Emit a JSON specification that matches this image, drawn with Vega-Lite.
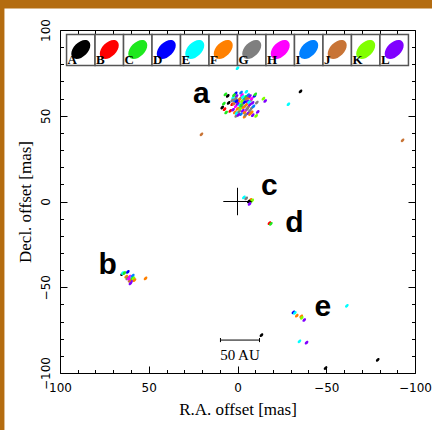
{
  "$schema": "https://vega.github.io/schema/vega-lite/v6.json",
  "width": 355,
  "height": 343,
  "autosize": "none",
  "padding": {"left": 60, "top": 30, "right": 17, "bottom": 57},
  "background": "white",
  "config": {
    "view": {"stroke": null},
    "axis": {
      "grid": false,
      "labelFont": "DejaVu Sans",
      "labelFontSize": 12,
      "labelColor": "black",
      "labelFlush": false,
      "labelOverlap": false,
      "tickColor": "black",
      "tickWidth": 1,
      "domainColor": "black",
      "domainWidth": 1,
      "titleColor": "black",
      "titleFont": "Liberation Serif",
      "titleFontSize": 17,
      "titleFontWeight": "normal"
    }
  },
  "datasets": {
    "frame": [
      {"x1": 150, "x2": -130, "y1": 130, "y2": 112.6},
      {"x1": 150, "x2": 131.3, "y1": 130, "y2": -150}
    ],
    "groups": [
      {"g": "A"}, {"g": "B"}, {"g": "C"}, {"g": "D"}, {"g": "E"}, {"g": "F"},
      {"g": "G"}, {"g": "H"}, {"g": "I"}, {"g": "J"}, {"g": "K"}, {"g": "L"}
    ],
    "spots": [
      {"x": 6.8, "y": 62.5, "g": "C"}, {"x": 5.5, "y": 61.6, "g": "A"}, {"x": -9.6, "y": 61.6, "g": "D"},
      {"x": -10, "y": 62.5, "g": "C"}, {"x": -15.6, "y": 58.6, "g": "L"}, {"x": -14.6, "y": 60, "g": "K"},
      {"x": 7.7, "y": 57.1, "g": "C"}, {"x": 8.6, "y": 54.8, "g": "A"}, {"x": 7.3, "y": 53.8, "g": "B"},
      {"x": 6.4, "y": 51.9, "g": "C"}, {"x": 4.1, "y": 52.8, "g": "B"}, {"x": 3, "y": 56.7, "g": "B"},
      {"x": -8.6, "y": 50.3, "g": "L"}, {"x": 0.7, "y": 49.9, "g": "G"}, {"x": -4, "y": 49.5, "g": "F"},
      {"x": -11.4, "y": 52.2, "g": "L"}, {"x": -10.5, "y": 49.9, "g": "K"}, {"x": -10.9, "y": 57.7, "g": "G"},
      {"x": 5, "y": 57.5, "g": "A"}, {"x": -2, "y": 63.5, "g": "I"}, {"x": -5, "y": 64, "g": "E"},
      {"x": 1, "y": 63, "g": "D"},
      {"x": 2.5, "y": 60.5, "g": "E"}, {"x": 1.5, "y": 59, "g": "I"}, {"x": 0.5, "y": 61.5, "g": "L"},
      {"x": -0.5, "y": 58, "g": "F"}, {"x": -1.5, "y": 60, "g": "G"}, {"x": -2.5, "y": 62, "g": "H"},
      {"x": -3.5, "y": 59.5, "g": "I"}, {"x": -4.5, "y": 61, "g": "C"}, {"x": -5.5, "y": 58.5, "g": "L"},
      {"x": -6.5, "y": 60.5, "g": "F"}, {"x": -7.5, "y": 59, "g": "G"}, {"x": -8.5, "y": 57.5, "g": "L"},
      {"x": 2, "y": 57, "g": "J"}, {"x": 1, "y": 55.5, "g": "H"}, {"x": 0, "y": 54, "g": "F"},
      {"x": -1, "y": 56.5, "g": "E"}, {"x": -2, "y": 55, "g": "L"}, {"x": -3, "y": 57, "g": "G"},
      {"x": -4, "y": 55.5, "g": "I"}, {"x": -5, "y": 56.5, "g": "F"}, {"x": -6, "y": 55, "g": "J"},
      {"x": -7, "y": 56.5, "g": "L"}, {"x": -8, "y": 54.5, "g": "G"}, {"x": 2.5, "y": 53.5, "g": "L"},
      {"x": 1.5, "y": 52, "g": "F"}, {"x": 0.5, "y": 51.5, "g": "E"}, {"x": -1, "y": 52.5, "g": "G"},
      {"x": -2, "y": 51, "g": "I"}, {"x": -3, "y": 53, "g": "L"}, {"x": -4, "y": 52, "g": "F"},
      {"x": -5, "y": 53.5, "g": "H"}, {"x": -6, "y": 51.5, "g": "L"}, {"x": -7, "y": 53, "g": "G"},
      {"x": -8, "y": 52, "g": "F"}, {"x": -2.5, "y": 58.5, "g": "K"}, {"x": -4, "y": 58, "g": "D"},
      {"x": -1, "y": 59.5, "g": "F"}, {"x": 0, "y": 57, "g": "L"}, {"x": -6, "y": 62, "g": "I"},
      {"x": -3, "y": 61, "g": "E"}, {"x": 1, "y": 60, "g": "G"}, {"x": -5, "y": 60, "g": "J"},
      {"x": -7, "y": 61.5, "g": "L"}, {"x": -1.5, "y": 54, "g": "K"}, {"x": -6.5, "y": 58, "g": "E"},
      {"x": 3, "y": 59, "g": "G"}, {"x": -3.5, "y": 55, "g": "F"}, {"x": -5.5, "y": 54, "g": "G"},
      {"x": -0.5, "y": 50.5, "g": "L"}, {"x": -9, "y": 55.5, "g": "I"}, {"x": -8, "y": 60, "g": "H"},
      {"x": 2, "y": 62, "g": "C"}, {"x": -4.5, "y": 50.5, "g": "G"}, {"x": 0.5, "y": 58.5, "g": "D"},
      {"x": -2, "y": 56, "g": "C"}, {"x": -7, "y": 51, "g": "F"},
      {"x": 65, "y": -42.3, "g": "A"}, {"x": 64.6, "y": -41.7, "g": "E"}, {"x": 61.8, "y": -41, "g": "D"},
      {"x": 63.7, "y": -41.7, "g": "C"}, {"x": 62.7, "y": -43.8, "g": "F"}, {"x": 60.8, "y": -43.8, "g": "H"},
      {"x": 62.1, "y": -44.8, "g": "G"}, {"x": 59.9, "y": -44.4, "g": "E"}, {"x": 59, "y": -43.2, "g": "I"},
      {"x": 59.3, "y": -45, "g": "C"}, {"x": 58.6, "y": -44.8, "g": "K"}, {"x": 59.9, "y": -46.8, "g": "L"},
      {"x": 60.3, "y": -47.7, "g": "L"}, {"x": 58, "y": -45.8, "g": "F"}, {"x": 60.8, "y": -46.2, "g": "J"},
      {"x": 61.2, "y": -45, "g": "H"}, {"x": 51.8, "y": -44.8, "g": "F"},
      {"x": -3.6, "y": 2.4, "g": "E"}, {"x": -4.9, "y": 1.8, "g": "G"}, {"x": -7.3, "y": 1, "g": "F"},
      {"x": -7.7, "y": 0, "g": "C"}, {"x": -6.4, "y": 0, "g": "A"}, {"x": -6.8, "y": -1.4, "g": "L"},
      {"x": -8.3, "y": 0.6, "g": "K"},
      {"x": -18, "y": -12.6, "g": "B"}, {"x": -18.8, "y": -13, "g": "C"},
      {"x": -31.5, "y": -64.6, "g": "D"}, {"x": -32.3, "y": -65, "g": "E"}, {"x": -33.4, "y": -66.6, "g": "F"},
      {"x": -35.9, "y": -67, "g": "F"}, {"x": -36.2, "y": -67.8, "g": "K"}, {"x": -37.6, "y": -69.1, "g": "L"},
      {"x": -61.6, "y": -60.8, "g": "E"}, {"x": -34.9, "y": -81.5, "g": "E"}, {"x": -38.9, "y": -82.3, "g": "L"},
      {"x": -79, "y": -92.3, "g": "A"}, {"x": -49.6, "y": -97.1, "g": "A"}, {"x": -13.5, "y": -77.9, "g": "A"},
      {"x": 0, "y": 77.7, "g": "E"}, {"x": -35.5, "y": 64.2, "g": "A"}, {"x": -28.7, "y": 56.7, "g": "E"},
      {"x": 20.3, "y": 39.2, "g": "J"}, {"x": -93, "y": 35.7, "g": "J"}
    ],
    "segments": [
      {"x1": 8, "x2": -8, "y1": 0, "y2": 0},
      {"x1": 0, "x2": 0, "y1": 8, "y2": -8},
      {"x1": 9.6, "x2": -12.4, "y1": -80.8, "y2": -80.8},
      {"x1": 9.6, "x2": 9.6, "y1": -79.6, "y2": -82},
      {"x1": -12.4, "x2": -12.4, "y1": -79.6, "y2": -82}
    ],
    "regions": [
      {"t": "a", "x": 20.3, "y": 57.3},
      {"t": "b", "x": 73.1, "y": -42.3},
      {"t": "c", "x": -18, "y": 3.7},
      {"t": "d", "x": -32.1, "y": -17.5},
      {"t": "e", "x": -48.1, "y": -66.6}
    ],
    "notes": [{"t": "50 AU", "x": -1.4, "y": -89.5}]
  },
  "layer": [
    {
      "data": {"name": "frame"},
      "mark": {"type": "rect", "clip": false, "color": "#b46c10"},
      "encoding": {
        "x": {"field": "x1", "type": "quantitative", "scale": {"domain": [-100, 100], "reverse": true, "nice": false, "zero": false}, "axis": null},
        "x2": {"field": "x2"},
        "y": {"field": "y1", "type": "quantitative", "scale": {"domain": [-100, 100], "nice": false, "zero": false}, "axis": null},
        "y2": {"field": "y2"}
      }
    },
    {
      "data": {"name": "groups"},
      "mark": {"type": "rect", "fill": "white", "stroke": "#555555", "strokeWidth": 1.5},
      "encoding": {
        "x": {"field": "g", "type": "nominal", "scale": {"type": "band", "paddingInner": 0, "paddingOuter": 0.23}, "axis": null},
        "y": {"datum": 97.4, "type": "quantitative", "axis": null},
        "y2": {"datum": 79.3}
      }
    },
    {
      "data": {"name": "groups"},
      "mark": {"type": "point", "shape": "M -0.7071 0.7071 A 1 0.62 -45 1 1 0.7071 -0.7071 A 1 0.62 -45 1 1 -0.7071 0.7071 Z", "filled": true, "opacity": 1, "size": 520, "strokeWidth": 0},
      "encoding": {
        "x": {"field": "g", "type": "nominal", "scale": {"type": "band", "paddingInner": 0, "paddingOuter": 0.23}, "axis": null},
        "y": {"datum": 88.6, "type": "quantitative", "axis": null},
        "color": {"field": "g", "type": "nominal", "legend": null,
          "scale": {"domain": ["A","B","C","D","E","F","G","H","I","J","K","L"],
                    "range": ["#000000","#ff0000","#1ee81e","#0000ff","#00ffff","#ff8000","#7f7f7f","#ff00ff","#0080ff","#c87436","#80ff00","#8000ff"]}}
      }
    },
    {
      "data": {"name": "groups"},
      "mark": {"type": "text", "align": "left", "baseline": "alphabetic", "dx": 1, "font": "Liberation Serif", "fontWeight": "bold", "fontSize": 13, "color": "black"},
      "encoding": {
        "x": {"field": "g", "type": "nominal", "bandPosition": 0, "scale": {"type": "band", "paddingInner": 0, "paddingOuter": 0.23}, "axis": null},
        "y": {"datum": 80.0, "type": "quantitative", "axis": null},
        "text": {"field": "g"}
      }
    },
    {
      "data": {"name": "spots"},
      "mark": {"type": "point", "shape": "M -0.7071 0.7071 A 1 0.62 -45 1 1 0.7071 -0.7071 A 1 0.62 -45 1 1 -0.7071 0.7071 Z", "filled": true, "opacity": 1, "size": 20, "strokeWidth": 0},
      "encoding": {
        "x": {"field": "x", "type": "quantitative",
          "scale": {"domain": [-100, 100], "reverse": true, "nice": false, "zero": false},
          "axis": {"orient": "bottom", "values": [-100, -50, 0, 50, 100], "tickSize": -7, "labelPadding": 16, "title": "R.A. offset [mas]", "titlePadding": 8}},
        "y": {"field": "y", "type": "quantitative",
          "scale": {"domain": [-100, 100], "nice": false, "zero": false},
          "axis": {"orient": "left", "values": [-100, -50, 0, 50, 100], "tickSize": -7, "labelPadding": 15, "labelAngle": -90, "labelAlign": "center", "labelBaseline": "bottom", "title": "Decl. offset [mas]", "titlePadding": 5}},
        "color": {"field": "g", "type": "nominal", "legend": null}
      }
    },
    {
      "data": {"name": "segments"},
      "mark": {"type": "rule", "color": "black", "strokeWidth": 1},
      "encoding": {
        "x": {"field": "x1", "type": "quantitative",
          "scale": {"domain": [-100, 100], "reverse": true, "nice": false, "zero": false},
          "axis": {"orient": "bottom", "values": [-90, -80, -70, -60, -40, -30, -20, -10, 10, 20, 30, 40, 60, 70, 80, 90], "tickSize": -3.5, "labels": false, "domain": false, "title": null}},
        "x2": {"field": "x2"},
        "y": {"field": "y1", "type": "quantitative",
          "axis": {"orient": "left", "values": [-90, -80, -70, -60, -40, -30, -20, -10, 10, 20, 30, 40, 60, 70, 80, 90], "tickSize": -3.5, "labels": false, "domain": false, "title": null}},
        "y2": {"field": "y2"}
      }
    },
    {
      "data": {"name": "regions"},
      "mark": {"type": "text", "font": "Liberation Sans", "fontWeight": "bold", "fontSize": 30, "align": "center", "baseline": "alphabetic", "color": "black"},
      "encoding": {
        "x": {"field": "x", "type": "quantitative",
          "scale": {"domain": [-100, 100], "reverse": true, "nice": false, "zero": false},
          "axis": {"orient": "top", "values": [-100, -50, 0, 50, 100], "tickSize": -7, "labels": false, "title": null}},
        "y": {"field": "y", "type": "quantitative",
          "axis": {"orient": "right", "values": [-100, -50, 0, 50, 100], "tickSize": -7, "labels": false, "title": null}},
        "text": {"field": "t"}
      }
    },
    {
      "data": {"name": "notes"},
      "mark": {"type": "text", "font": "Liberation Serif", "fontSize": 15, "align": "center", "baseline": "middle", "color": "black"},
      "encoding": {
        "x": {"field": "x", "type": "quantitative",
          "scale": {"domain": [-100, 100], "reverse": true, "nice": false, "zero": false},
          "axis": {"orient": "top", "values": [-90, -80, -70, -60, -40, -30, -20, -10, 10, 20, 30, 40, 60, 70, 80, 90], "tickSize": -3.5, "labels": false, "domain": false, "title": null}},
        "y": {"field": "y", "type": "quantitative",
          "axis": {"orient": "right", "values": [-90, -80, -70, -60, -40, -30, -20, -10, 10, 20, 30, 40, 60, 70, 80, 90], "tickSize": -3.5, "labels": false, "domain": false, "title": null}},
        "text": {"field": "t"}
      }
    }
  ],
  "resolve": {"scale": {"x": "independent"}, "axis": {"x": "independent", "y": "independent"}}
}
